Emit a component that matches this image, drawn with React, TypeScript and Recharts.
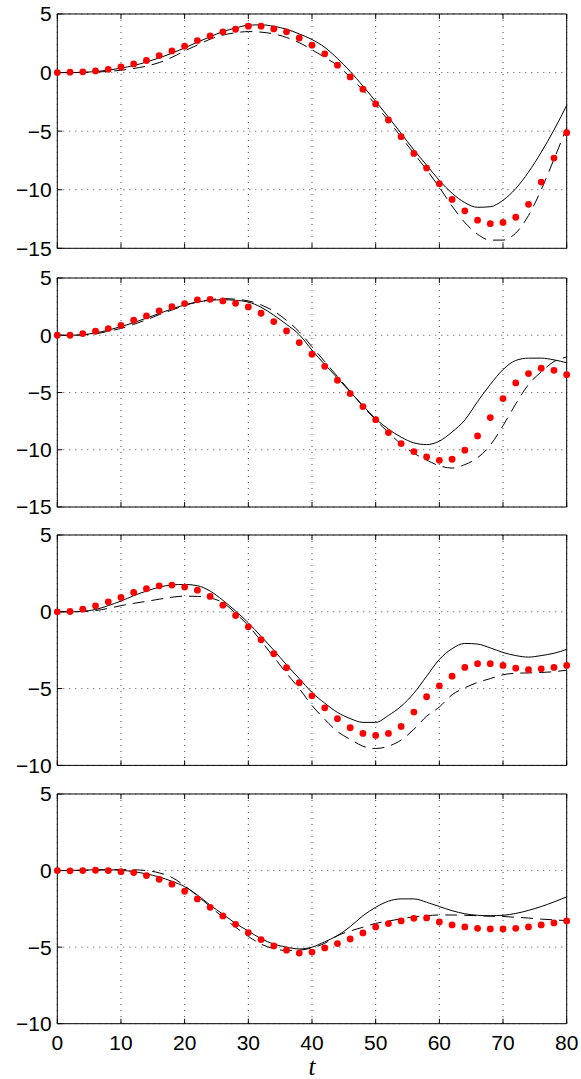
import React from 'react';
import { LineChart, Line, XAxis, YAxis, CartesianGrid } from 'recharts';

// time axis (category values)
const T = [0, 2, 4, 6, 8, 10, 12, 14, 16, 18, 20, 22, 24, 26, 28, 30, 32, 34, 36, 38, 40, 42, 44, 46, 48, 50, 52, 54, 56, 58, 60, 62, 64, 66, 68, 70, 72, 74, 76, 78, 80];
const X_TICKS = [0, 10, 20, 30, 40, 50, 60, 70, 80];
const Y_TICKS_A = [-15, -10, -5, 0, 5];
const Y_TICKS_B = [-10, -5, 0, 5];

// panel 1
const p1Solid = [0, 0, 0.02, 0.08, 0.2, 0.38, 0.6, 0.9, 1.25, 1.65, 2.1, 2.6, 3.05, 3.5, 3.8, 4.05, 4.08, 3.95, 3.7, 3.3, 2.82, 2.15, 1.2, 0.1, -1.15, -2.45, -3.8, -5.2, -6.6, -7.9, -9.2, -10.3, -11.1, -11.5, -11.45, -10.9, -9.9, -8.5, -6.8, -4.9, -2.8];
const p1Dashed = [0, 0, 0.01, 0.04, 0.1, 0.2, 0.35, 0.55, 0.85, 1.3, 1.85, 2.35, 2.85, 3.2, 3.4, 3.5, 3.45, 3.3, 3.0, 2.55, 1.95, 1.3, 0.6, -0.4, -1.5, -2.75, -4.1, -5.5, -6.9, -8.3, -9.8, -11.4, -12.8, -13.8, -14.3, -14.3, -13.7, -12.2, -10.0, -7.4, -4.7];
const p1Dots = [0, 0.03, 0.06, 0.14, 0.28, 0.48, 0.74, 1.03, 1.45, 1.85, 2.25, 2.73, 3.13, 3.48, 3.7, 3.96, 3.96, 3.73, 3.48, 2.95, 2.34, 1.6, 0.63, -0.37, -1.42, -2.68, -4.05, -5.47, -6.9, -8.15, -9.49, -10.83, -11.8, -12.6, -12.9, -12.8, -12.35, -11.25, -9.35, -7.3, -5.13];

// panel 2
const p2Solid = [0, 0, 0.05, 0.2, 0.45, 0.75, 1.1, 1.5, 1.9, 2.3, 2.65, 2.9, 3.05, 3.1, 3.05, 2.9, 2.45, 1.75, 0.95, 0.05, -1.3, -2.55, -3.75, -4.95, -6.15, -7.3, -8.2, -8.9, -9.4, -9.55, -9.25, -8.45, -7.4, -5.8, -4.3, -3.0, -2.2, -2.0, -2.0, -2.15, -2.4];
const p2Dashed = [0, 0, 0.03, 0.12, 0.35, 0.6, 0.95, 1.35, 1.8, 2.2, 2.6, 2.9, 3.1, 3.2, 3.15, 3.0, 2.65, 2.1, 1.3, 0.3, -1.0, -2.3, -3.6, -4.9, -6.2, -7.4, -8.5, -9.5, -10.3, -10.9, -11.4, -11.6, -11.3, -10.7, -9.6, -7.9, -6.0, -4.3, -3.2, -2.3, -1.9];
const p2Dots = [0, 0, 0.15, 0.35, 0.58, 0.87, 1.31, 1.69, 2.13, 2.5, 2.77, 3.09, 3.14, 3.0, 2.79, 2.47, 1.92, 1.19, 0.38, -0.64, -1.66, -2.71, -3.93, -5.09, -6.23, -7.37, -8.5, -9.46, -10.16, -10.63, -10.92, -10.83, -10.04, -8.79, -7.19, -5.53, -4.16, -3.35, -2.88, -3.06, -3.44];

// panel 3
const p3Solid = [0, 0, 0.03, 0.15, 0.4, 0.7, 1.05, 1.35, 1.6, 1.75, 1.78, 1.7, 1.35, 0.75, 0.05, -0.72, -1.6, -2.5, -3.45, -4.35, -5.25, -5.95, -6.55, -6.95, -7.2, -7.2, -6.75, -6.15, -5.3, -4.2, -3.1, -2.4, -2.06, -2.1, -2.35, -2.65, -2.85, -2.95, -2.85, -2.7, -2.45];
const p3Dashed = [0, 0, 0.02, 0.08, 0.22, 0.4, 0.55, 0.68, 0.82, 0.95, 1.02, 1.0, 0.9, 0.6, -0.1, -0.9, -1.9, -2.95, -4.0, -5.0, -6.1, -7.0, -7.8, -8.3, -8.75, -8.9, -8.75, -8.35, -7.65, -6.8, -6.2, -5.4, -4.95, -4.6, -4.35, -4.1, -4.0, -3.98, -3.95, -3.9, -3.8];
const p3Dots = [0, 0.02, 0.17, 0.39, 0.65, 0.93, 1.26, 1.5, 1.69, 1.74, 1.61, 1.41, 1.0, 0.43, -0.24, -0.98, -1.82, -2.73, -3.64, -4.62, -5.47, -6.25, -6.96, -7.55, -7.92, -8.05, -7.92, -7.46, -6.53, -5.53, -4.82, -4.19, -3.62, -3.38, -3.38, -3.49, -3.67, -3.77, -3.71, -3.62, -3.49];

// panel 4
const p4Solid = [0, 0.01, 0.03, 0.05, 0.05, 0.02, -0.07, -0.22, -0.42, -0.7, -1.05, -1.6, -2.25, -2.85, -3.45, -3.95, -4.45, -4.8, -5.0, -5.12, -5.0, -4.65, -4.25, -3.66, -2.95, -2.4, -2.0, -1.85, -1.85, -2.07, -2.35, -2.62, -2.82, -2.92, -2.95, -2.92, -2.8, -2.6, -2.35, -2.05, -1.72];
const p4Dashed = [0, 0, 0.01, 0.03, 0.05, 0.06, 0.05, 0.0, -0.15, -0.45, -1.0, -1.65, -2.35, -3.05, -3.7, -4.3, -4.8, -5.1, -5.22, -5.2, -5.05, -4.75, -4.25, -3.95, -3.7, -3.45, -3.3, -3.15, -3.02, -2.95, -2.9, -2.9, -2.92, -2.95, -2.98, -3.0, -3.05, -3.1, -3.17, -3.22, -3.27];
const p4Dots = [0, -0.02, 0, 0.02, 0, -0.07, -0.13, -0.33, -0.57, -0.89, -1.35, -1.85, -2.4, -2.96, -3.51, -4.05, -4.51, -4.92, -5.2, -5.39, -5.32, -5.05, -4.77, -4.47, -4.07, -3.68, -3.46, -3.29, -3.12, -3.09, -3.36, -3.55, -3.68, -3.77, -3.81, -3.81, -3.77, -3.68, -3.55, -3.42, -3.29];

const FONT = "'Liberation Sans', Arial, Helvetica, sans-serif";
const tickStyle = { fontSize: 21, fill: '#000', fontFamily: FONT };
const fmt = (v: number) => String(v).replace('-', '\u2212');
const EmptyTick = () => <g />;

type PanelProps = {
  top: number;
  plotH: number;
  domain: [number, number];
  yTicks: number[];
  solid: number[];
  dashed: number[];
  dots: number[];
  bottom?: boolean;
};

function Panel({ top, plotH, domain, yTicks, solid, dashed, dots, bottom }: PanelProps) {
  const data = T.map((tv, i) => ({ t: tv, solid: solid[i], dashed: dashed[i], dots: dots[i] }));
  const xAxisH = bottom ? 55 : 20;
  const chartH = 15 + plotH + xAxisH + 2;
  return (
    <div style={{ position: 'absolute', left: 0, top: top - 15, width: 581, height: chartH }}>
      <LineChart width={581} height={chartH} data={data} margin={{ top: 10, right: 9.3, bottom: 2, left: 7.3 }}>
        <CartesianGrid stroke="#333" strokeWidth={0.9} strokeDasharray="1 5" />
        <XAxis
          dataKey="t"
          type="number"
          domain={[0, 80]}
          ticks={X_TICKS}
          interval={0}
          height={xAxisH}
          tickSize={-5}
          tickMargin={16}
          axisLine={{ stroke: '#000', strokeWidth: 1 }}
          tickLine={{ stroke: '#000' }}
          tick={bottom ? tickStyle : EmptyTick}
          label={
            bottom
              ? {
                  value: 't',
                  position: 'insideBottom',
                  offset: 4,
                  style: { fontStyle: 'italic', fontFamily: "'Liberation Serif', 'DejaVu Serif', serif", fontSize: 25, fill: '#000' },
                }
              : undefined
          }
        />
        <XAxis
          xAxisId="top"
          orientation="top"
          dataKey="t"
          type="number"
          domain={[0, 80]}
          ticks={X_TICKS}
          interval={0}
          height={5}
          tickSize={-5}
          axisLine={{ stroke: '#000', strokeWidth: 1 }}
          tickLine={{ stroke: '#000' }}
          tick={EmptyTick}
        />
        <YAxis
          type="number"
          domain={domain}
          ticks={yTicks}
          interval={0}
          width={50}
          tickSize={-5}
          tickMargin={10.6}
          tickFormatter={fmt}
          axisLine={{ stroke: '#000', strokeWidth: 1 }}
          tickLine={{ stroke: '#000' }}
          tick={tickStyle}
        />
        <YAxis
          yAxisId="right"
          orientation="right"
          type="number"
          domain={domain}
          ticks={yTicks}
          interval={0}
          width={5}
          tickSize={-5}
          axisLine={{ stroke: '#000', strokeWidth: 1 }}
          tickLine={{ stroke: '#000' }}
          tick={EmptyTick}
        />
        <Line dataKey="solid" type="monotone" stroke="#000" strokeWidth={1} dot={false} isAnimationActive={false} />
        <Line dataKey="dashed" type="monotone" stroke="#000" strokeWidth={1} strokeDasharray="12 7" dot={false} isAnimationActive={false} />
        <Line dataKey="dots" stroke="none" dot={{ r: 3.4, fill: '#ff0000', stroke: 'none' }} isAnimationActive={false} />
      </LineChart>
    </div>
  );
}

export default function App() {
  return (
    <div style={{ position: 'absolute', left: 0, top: 0, width: 581, height: 1079, background: '#fff', overflow: 'hidden' }}>
      <Panel top={14} plotH={234.3} domain={[-15, 5]} yTicks={Y_TICKS_A} solid={p1Solid} dashed={p1Dashed} dots={p1Dots} />
      <Panel top={277.7} plotH={229} domain={[-15, 5]} yTicks={Y_TICKS_A} solid={p2Solid} dashed={p2Dashed} dots={p2Dots} />
      <Panel top={535.3} plotH={230.4} domain={[-10, 5]} yTicks={Y_TICKS_B} solid={p3Solid} dashed={p3Dashed} dots={p3Dots} />
      <Panel top={794.3} plotH={229.7} domain={[-10, 5]} yTicks={Y_TICKS_B} solid={p4Solid} dashed={p4Dashed} dots={p4Dots} bottom />
    </div>
  );
}
